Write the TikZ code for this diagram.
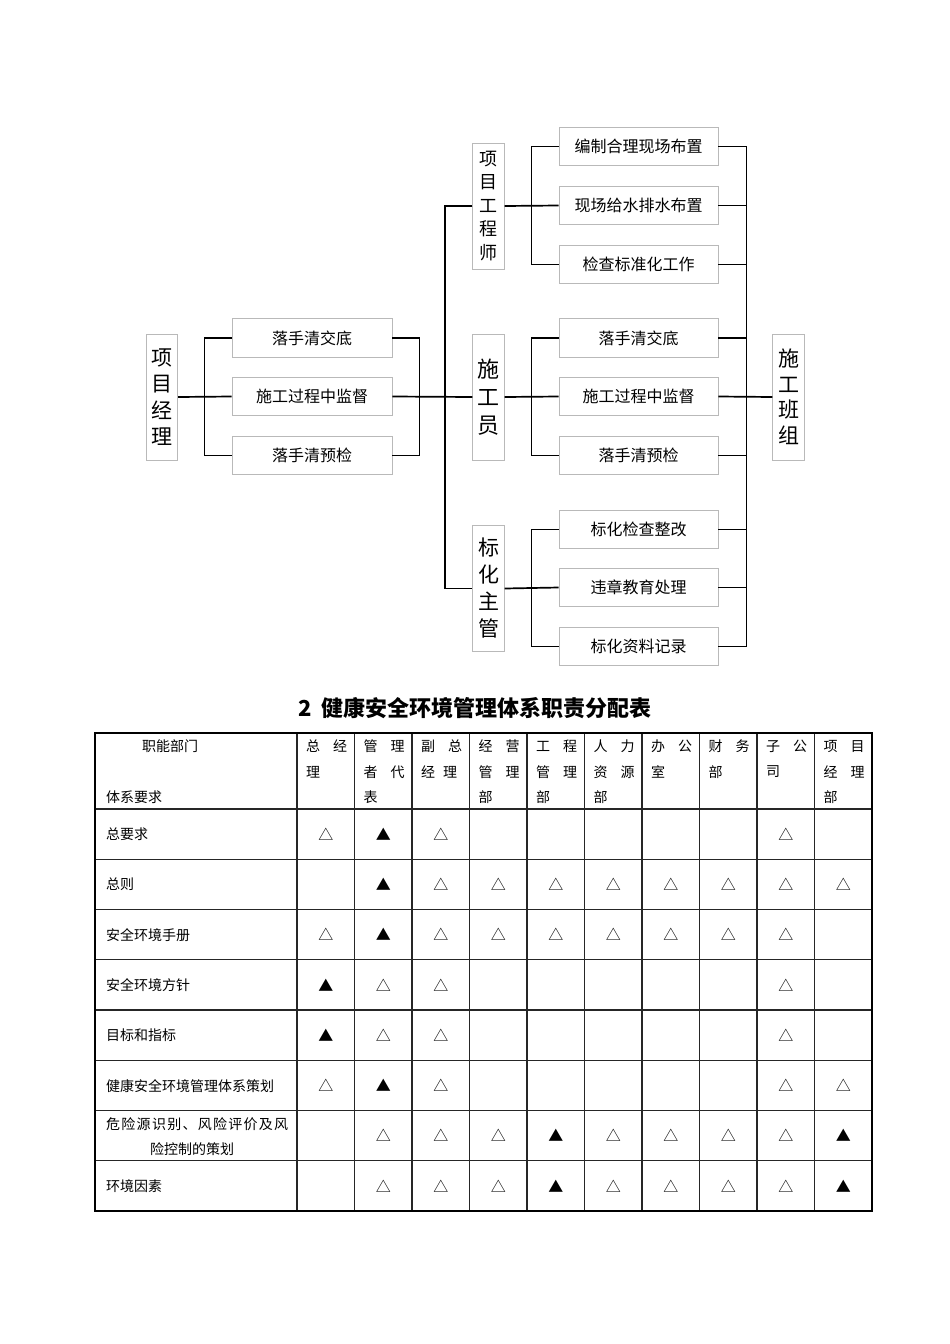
\documentclass[tikz,border=0pt]{standalone}
\usepackage{fontspec}
\setmainfont{Noto Sans CJK SC}
\definecolor{boxgray}{RGB}{185,185,185}
\begin{document}
\begin{tikzpicture}[x=1pt,y=-1pt,
  box/.style={draw=boxgray, line width=0.9pt, minimum width=160pt, minimum height=38.5pt, inner sep=0pt, font=\fontsize{16}{16}\selectfont},
  vbox/.style={draw=boxgray, line width=0.9pt, minimum width=31.5pt, minimum height=126pt, inner sep=0pt, align=center},
  conn/.style={line width=1.7pt, black},
  cell/.style={inner sep=0pt, font=\fontsize{14}{14}\selectfont},
  sym/.style={inner sep=0pt, font=\fontsize{15}{15}\selectfont},
  outer/.style={line width=2.2pt, black},
  inner/.style={line width=1.2pt, black!85}]
\useasboundingbox (0,0) rectangle (950,1344);

% ---------- organisation chart ----------
\node[vbox, font=\fontsize{21}{26.5}\selectfont] (pm) at (162,397) {项\\目\\经\\理};
\node[box, minimum width=160pt] (L1) at (312,338) {落手清交底};
\node[box, minimum width=160pt] (L2) at (312,396.5) {施工过程中监督};
\node[box, minimum width=160pt] (L3) at (312,455.5) {落手清预检};

\node[vbox, font=\fontsize{18}{23.5}\selectfont] (pe) at (488.5,206) {项\\目\\工\\程\\师};
\node[vbox, font=\fontsize{22}{28}\selectfont] (sg) at (488.5,397) {施\\工\\员};
\node[vbox, font=\fontsize{21}{27}\selectfont] (sup) at (488.5,588.5) {标\\化\\主\\管};

\node[box, minimum width=159pt] (R1) at (638.5,146.5) {编制合理现场布置};
\node[box, minimum width=159pt] (R2) at (638.5,205.5) {现场给水排水布置};
\node[box, minimum width=159pt] (R3) at (638.5,264.5) {检查标准化工作};
\node[box, minimum width=159pt] (R4) at (638.5,338) {落手清交底};
\node[box, minimum width=159pt] (R5) at (638.5,396.5) {施工过程中监督};
\node[box, minimum width=159pt] (R6) at (638.5,455.5) {落手清预检};
\node[box, minimum width=159pt] (R7) at (638.5,529.5) {标化检查整改};
\node[box, minimum width=159pt] (R8) at (638.5,587.5) {违章教育处理};
\node[box, minimum width=159pt] (R9) at (638.5,646.5) {标化资料记录};

\node[vbox, font=\fontsize{21}{25.5}\selectfont] (team) at (788.5,397) {施\\工\\班\\组};

\coordinate (rb) at (746,0);

% left brackets
\draw[conn] (pm.east) -- (L2.west);
\draw[conn] (L1.west) -- ++(-27,0) |- (L3.west);
\draw[conn] (L1.east) -- ++(27,0) |- (L3.east);
% trunk
\draw[conn] (L2.east) -- (sg.west);
\draw[conn] (pe.west) -- ++(-27,0) |- (sup.west);
% middle brackets
\draw[conn] (pe.east) -- (R2.west);
\draw[conn] (R1.west) -- ++(-27,0) |- (R3.west);
\draw[conn] (sg.east) -- (R5.west);
\draw[conn] (R4.west) -- ++(-27,0) |- (R6.west);
\draw[conn] (sup.east) -- (R8.west);
\draw[conn] (R7.west) -- ++(-27,0) |- (R9.west);
% right bracket
\draw[conn] (R1.east) -- ++(28,0) |- (R9.east);
\foreach \k in {2,3,4,6,7,8} \draw[conn] (R\k.east) -- (R\k.east -| rb);
\draw[conn] (R5.east) -- (team.west);

% ---------- title ----------
\node[inner sep=0pt, font=\fontsize{22}{22}\selectfont\bfseries] (title) at (475,708) {2\hspace{9pt}健康安全环境管理体系职责分配表};

% ---------- table ----------
\foreach \k in {1,...,7} \draw[inner] (95,{809+50.25*\k}) -- (872,{809+50.25*\k});
\draw[inner] (95,809) -- (872,809);
\foreach \k in {1,...,9} \draw[inner] ({297+57.5*\k},733) -- ({297+57.5*\k},1211);
\draw[inner] (297,733) -- (297,1211);
\draw[outer] (95,733) rectangle (872,1211);

% header
\node[cell] (hA) at (170,746) {职能部门};
\node[cell, anchor=west] (hB) at (106,797) {体系要求};
\foreach \j/\la/\lb/\lc in {1/总\hspace{13pt}经/理/,
  2/管\hspace{13pt}理/者\hspace{13pt}代/表,
  3/副\hspace{13pt}总/经\hspace{8pt}理/,
  4/经\hspace{13pt}营/管\hspace{13pt}理/部,
  5/工\hspace{13pt}程/管\hspace{13pt}理/部,
  6/人\hspace{13pt}力/资\hspace{13pt}源/部,
  7/办\hspace{13pt}公/室/,
  8/财\hspace{13pt}务/部/,
  9/子\hspace{13pt}公/司/,
  10/项\hspace{13pt}目/经\hspace{13pt}理/部} {
  \node[cell, anchor=west] (h\j a) at ({297+57.5*(\j-1)+9},746) {\la};
  \node[cell, anchor=west] (h\j b) at ({297+57.5*(\j-1)+9},772) {\lb};
  \node[cell, anchor=west] (h\j c) at ({297+57.5*(\j-1)+9},797) {\lc};
}

% row labels
\node[cell, anchor=west] (r1) at (106,834) {总要求};
\node[cell, anchor=west] (r2) at (106,884.5) {总则};
\node[cell, anchor=west] (r3) at (106,935) {安全环境手册};
\node[cell, anchor=west] (r4) at (106,985) {安全环境方针};
\node[cell, anchor=west] (r5) at (106,1035.5) {目标和指标};
\node[cell, anchor=west] (r6) at (106,1086) {健康安全环境管理体系策划};
\node[cell, anchor=west] (r7a) at (106,1124) {\makebox[182pt][s]{危\hfill 险\hfill 源\hfill 识\hfill 别\hfill 、\hfill 风\hfill 险\hfill 评\hfill 价\hfill 及\hfill 风}};
\node[cell] (r7b) at (192,1149) {险控制的策划};
\node[cell, anchor=west] (r8) at (106,1186) {环境因素};

% marks: 1 = open triangle, 2 = filled triangle
\foreach \codes [count=\i] in {
  {1,2,1,0,0,0,0,0,1,0},
  {0,2,1,1,1,1,1,1,1,1},
  {1,2,1,1,1,1,1,1,1,0},
  {2,1,1,0,0,0,0,0,1,0},
  {2,1,1,0,0,0,0,0,1,0},
  {1,2,1,0,0,0,0,0,1,1},
  {0,1,1,1,2,1,1,1,1,2},
  {0,1,1,1,2,1,1,1,1,2}} {
  \foreach \c [count=\j] in \codes {
    \ifnum\c=1 \node[sym] (m\i-\j) at ({297+57.5*(\j-0.5)},{809+50.25*(\i-0.5)}) {△};\fi
    \ifnum\c=2 \node[sym] (m\i-\j) at ({297+57.5*(\j-0.5)},{809+50.25*(\i-0.5)}) {▲};\fi
  }
}
\end{tikzpicture}
\end{document}
